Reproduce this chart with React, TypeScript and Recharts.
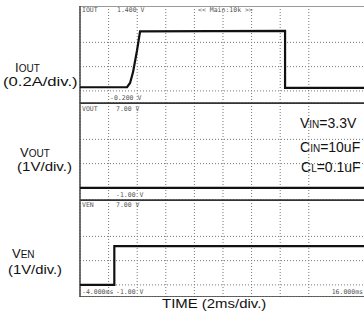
import React from 'react';
import { LineChart, Line, XAxis, YAxis, CartesianGrid, ReferenceLine } from 'recharts';

// time in ms, 2ms/div
const timeTicks = [-4, -2, 0, 2, 4, 6, 8, 10, 12, 14, 16];

// IOUT (A), 0.2A/div
const ioutTime = [-4, -0.71, -0.5, -0.29, -0.01, 0.2, 10.34, 10.34, 16];
const ioutAmp = [0.06, 0.06, 0.13, 0.31, 0.67, 0.98, 0.99, 0.05, 0.05];
const ioutTicks = [-0.2, 0, 0.2, 0.4, 0.6, 0.8, 1.0, 1.2, 1.4];
const triggerLevel = 0.55;

// VOUT (V), 1V/div
const voutTime = [-4, 16];
const voutVolt = [0, 0];

// VEN (V), 1V/div
const venTime = [-4, -1.6, -1.6, 16];
const venVolt = [0, 0, 3.2, 3.2];
const voltTicks = [-1, 0, 1, 2, 3, 4, 5, 6, 7];

const toRows = (t: number[], v: number[]) => t.map((x, i) => ({ t: x, v: v[i] }));

const MarkerTick = (props: any) => {
  const { x, y, payload } = props;
  if (payload.value === 0) {
    return (
      <g stroke="#333" strokeWidth={1}>
        <line x1={x - 3.5} y1={y - 1} x2={x - 3.5} y2={y + 3} />
        <line x1={x - 7} y1={y + 3.5} x2={x} y2={y + 3.5} />
        <line x1={x - 6} y1={y + 5.5} x2={x - 1} y2={y + 5.5} />
        <line x1={x - 5} y1={y + 7.5} x2={x - 2} y2={y + 7.5} />
      </g>
    );
  }
  return (
    <g>
      <text x={x - 9} y={y + 2} fontSize={6} fontFamily="DejaVu Sans Mono" fill="#333">T</text>
      <path d={`M${x - 4},${y - 1} L${x},${y + 2} L${x - 4},${y + 2} Z`} fill="#333" />
    </g>
  );
};

interface PanelProps {
  rows: { t: number; v: number }[];
  domain: [number, number];
  ticks: number[];
  markers: number[];
  top: number;
  topStroke: string;
}

const Panel = ({ rows, domain, ticks, markers, top, topStroke }: PanelProps) => (
  <div style={{ position: 'absolute', left: 72, top }}>
    <LineChart width={294} height={97} data={rows} margin={{ top: 0, right: 0, bottom: 0, left: 0 }}>
      <CartesianGrid yAxisId="g" stroke="#777" strokeDasharray="1 2" />
      <XAxis dataKey="t" type="number" domain={[-4, 16]} ticks={timeTicks} hide />
      <YAxis yAxisId="g" type="number" domain={domain} ticks={ticks} hide />
      <YAxis
        yAxisId="m"
        type="number"
        domain={domain}
        ticks={markers}
        interval={0}
        width={8}
        axisLine={false}
        tickLine={false}
        tickSize={0}
        tickMargin={0}
        tick={<MarkerTick />}
      />
      <ReferenceLine yAxisId="g" y={domain[1]} stroke={topStroke} strokeWidth={2} />
      <ReferenceLine yAxisId="g" y={domain[0]} stroke="#333" strokeWidth={1.5} />
      <ReferenceLine yAxisId="g" x={-4} stroke="#444" strokeWidth={1.5} />
      <Line yAxisId="g" dataKey="v" type="linear" stroke="#111" strokeWidth={2.2} dot={false} isAnimationActive={false} />
    </LineChart>
  </div>
);

const mono = { fontFamily: 'DejaVu Sans Mono', fontSize: 6.5, fill: '#555' };
const sans = 'Liberation Sans, Arial, sans-serif';

export default function App() {
  return (
    <div style={{ position: 'absolute', left: 0, top: 0, width: 364, height: 320, overflow: 'hidden', background: '#fff' }}>
      <Panel rows={toRows(ioutTime, ioutAmp)} domain={[-0.2, 1.4]} ticks={ioutTicks} markers={[0, triggerLevel]} top={6} topStroke="#999" />
      <Panel rows={toRows(voutTime, voutVolt)} domain={[-1, 7]} ticks={voltTicks} markers={[0]} top={103} topStroke="#333" />
      <Panel rows={toRows(venTime, venVolt)} domain={[-1, 7]} ticks={voltTicks} markers={[0]} top={200} topStroke="#333" />
      <svg width={364} height={320} style={{ position: 'absolute', left: 0, top: 0, pointerEvents: 'none' }}>
        {/* scope readouts */}
        <text x={82} y={12} {...mono}>IOUT</text>
        <text x={117} y={12} {...mono}>1.400 V</text>
        <text x={198} y={12} {...mono}>{'<< Main:10k >>'}</text>
        <text x={110} y={100} {...mono}>-0.200 V</text>
        <text x={82} y={111} {...mono}>VOUT</text>
        <text x={116} y={111} {...mono}>7.00 V</text>
        <text x={116} y={197} {...mono}>-1.00 V</text>
        <text x={82} y={207} {...mono}>VEN</text>
        <text x={116} y={207} {...mono}>7.00 V</text>
        <text x={82} y={294} {...mono}>-4.000ms</text>
        <text x={116} y={294} {...mono}>-1.00 V</text>
        <text x={363} y={294} textAnchor="end" {...mono}>16.000ms</text>

        {/* channel labels */}
        <g fontFamily={sans} fill="#111" fontSize={13}>
          <text x={15} y={72}>I<tspan fontSize={10}>OUT</tspan></text>
          <text transform="translate(3,86) scale(1.28,1)">(0.2A/div.)</text>
          <text x={20} y={157}>V<tspan fontSize={10}>OUT</tspan></text>
          <text transform="translate(17,171) scale(1.16,1)">(1V/div.)</text>
          <text x={12} y={258}>V<tspan fontSize={10}>EN</tspan></text>
          <text transform="translate(8,274) scale(1.14,1)">(1V/div.)</text>
          <text transform="translate(162,308) scale(1.15,1)">TIME (2ms/div.)</text>

          <text x={300} y={128} fontSize={14}>V<tspan fontSize={10}>IN</tspan>=3.3V</text>
          <text x={300} y={152} fontSize={14}>C<tspan fontSize={10}>IN</tspan>=10uF</text>
          <text x={301} y={172} fontSize={14}>C<tspan fontSize={10}>L</tspan>=0.1uF</text>
        </g>
      </svg>
    </div>
  );
}
